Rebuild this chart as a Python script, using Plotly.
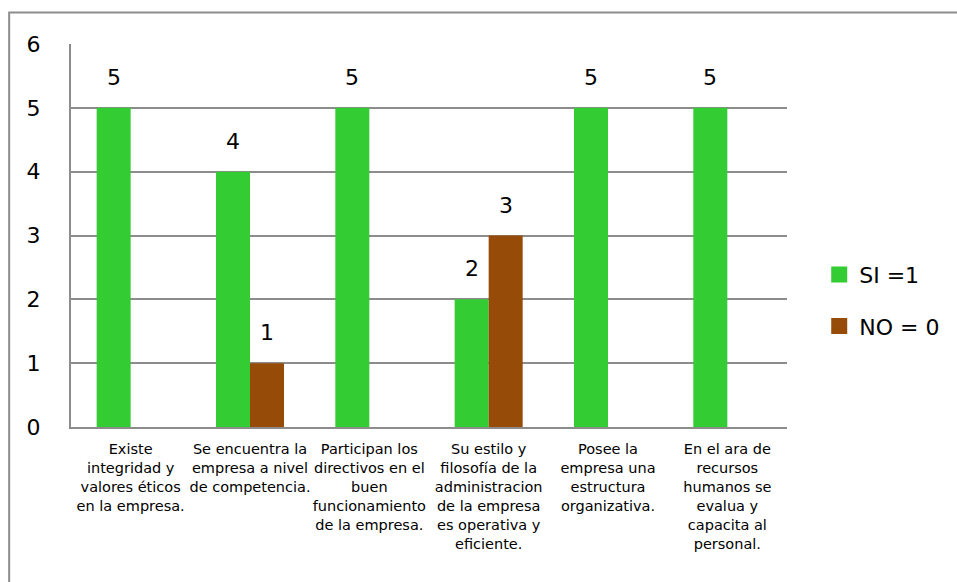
import plotly.graph_objects as go

categorias = [
    "Existe<br>integridad y<br>valores éticos<br>en la empresa.",
    "Se encuentra la<br>empresa a nivel<br>de competencia.",
    "Participan los<br>directivos en el<br>buen<br>funcionamiento<br>de la empresa.",
    "Su estilo y<br>filosofía de la<br>administracion<br>de la empresa<br>es operativa y<br>eficiente.",
    "Posee la<br>empresa una<br>estructura<br>organizativa.",
    "En el ara de<br>recursos<br>humanos se<br>evalua y<br>capacita al<br>personal.",
]
si_valores = [5, 4, 5, 2, 5, 5]
no_valores = [None, 1, None, 3, None, None]
y_ticks = [0, 1, 2, 3, 4, 5, 6]
series = [("SI =1", si_valores), ("NO = 0", no_valores)]

VERDE = "#33cc33"
CAFE = "#974b09"
GRIS = "#8c8c8c"
FUENTE = "DejaVu Sans"
colores = [VERDE, CAFE]

fig = go.Figure()
for (nombre, valores), color in zip(series, colores):
    fig.add_trace(go.Bar(x=categorias, y=valores, name=nombre, marker_color=color,
                         marker_line_width=0, showlegend=False))

# legend entries with larger square swatches
for (nombre, _), color in zip(series, colores):
    fig.add_trace(go.Scatter(x=[None], y=[None], mode="markers", name=nombre,
                             marker=dict(symbol="square", size=18, color=color),
                             legendgroup=nombre))

# value labels above each bar
anotaciones = []
for (_, serie), desplaz in zip(series, (-17, 17)):
    for cat, val in zip(categorias, serie):
        if val is None:
            continue
        anotaciones.append(dict(x=cat, y=val, xref="x", yref="y", text=str(val),
                                showarrow=False, xshift=desplaz, yshift=16,
                                yanchor="bottom",
                                font=dict(family=FUENTE, size=22, color="black")))

fig.update_layout(
    width=957, height=582,
    margin=dict(l=71, r=168, t=44, b=155),
    paper_bgcolor="white", plot_bgcolor="white",
    barmode="group", bargap=0.43, bargroupgap=0,
    font=dict(family=FUENTE, color="black"),
    annotations=anotaciones,
    legend=dict(x=1.045, y=0.33, xanchor="left", yanchor="middle",
                font=dict(family=FUENTE, size=22), tracegroupgap=20,
                itemsizing="trace", itemwidth=30),
    shapes=[dict(type="rect", xref="paper", yref="paper",
                 x0=(9 - 71) / 718, x1=(990 - 71) / 718,
                 y0=(427 - 600) / 383, y1=1 + (44 - 12.5) / 383,
                 line=dict(color=GRIS, width=2), layer="below")],
)
fig.update_xaxes(showline=True, linecolor=GRIS, linewidth=2, ticks="",
                 tickangle=0, tickfont=dict(family=FUENTE, size=14.5),
                 ticklabelstandoff=8)
fig.update_yaxes(range=[0, 6], tickvals=y_ticks, showgrid=True, gridcolor=GRIS,
                 gridwidth=2, showline=True, linecolor=GRIS, linewidth=2,
                 zeroline=False, ticks="", ticklabelstandoff=24,
                 tickfont=dict(family=FUENTE, size=22))

fig.write_html("out.html")
